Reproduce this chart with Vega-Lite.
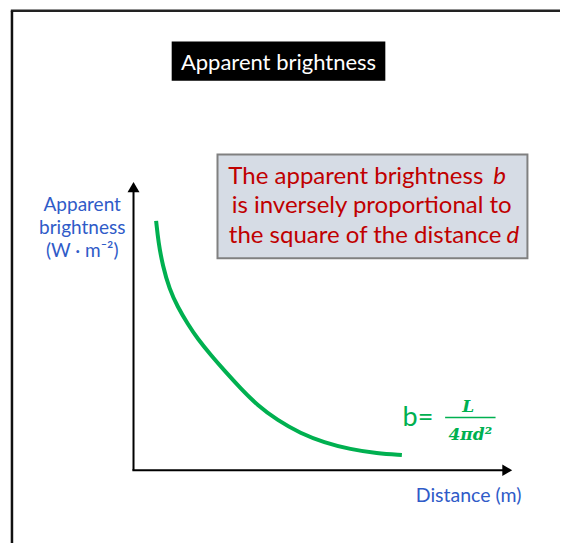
{
  "$schema": "https://vega.github.io/schema/vega-lite/v6.json",
  "width": 562,
  "height": 545,
  "padding": 0,
  "autosize": {"type": "fit", "contains": "padding"},
  "background": "white",
  "config": {"view": {"stroke": null}},
  "datasets": {
    "curve": [
      {"d": 0.597, "b": 8.631},
      {"d": 0.658, "b": 7.886},
      {"d": 0.771, "b": 7.079},
      {"d": 0.947, "b": 6.276},
      {"d": 1.166, "b": 5.655},
      {"d": 1.429, "b": 5.069},
      {"d": 1.692, "b": 4.552},
      {"d": 2.045, "b": 3.983},
      {"d": 2.395, "b": 3.459},
      {"d": 2.834, "b": 2.828},
      {"d": 3.271, "b": 2.252},
      {"d": 3.797, "b": 1.734},
      {"d": 4.413, "b": 1.276},
      {"d": 5.026, "b": 0.966},
      {"d": 5.729, "b": 0.724},
      {"d": 6.429, "b": 0.586},
      {"d": 7.087, "b": 0.528}
    ],
    "one": [{}]
  },
  "layer": [
    {
      "data": {"name": "one"},
      "mark": {"type": "rule", "stroke": "#222222", "strokeWidth": 2.5},
      "encoding": {
        "x": {"datum": -3.24, "type": "quantitative", "scale": {"domain": [-3.526, 11.263], "nice": false, "zero": false}, "axis": null},
        "y": {"datum": 15.9, "type": "quantitative", "scale": {"domain": [-2.517, 16.276], "nice": false, "zero": false}, "axis": null},
        "x2": {"datum": 11.263},
        "y2": {"datum": 15.9}
      }
    },
    {
      "data": {"name": "one"},
      "mark": {"type": "rule", "stroke": "#111111", "strokeWidth": 2.5},
      "encoding": {
        "x": {"datum": -3.21, "type": "quantitative", "scale": {"domain": [-3.526, 11.263], "nice": false, "zero": false}, "axis": null},
        "y": {"datum": 15.9, "type": "quantitative", "scale": {"domain": [-2.517, 16.276], "nice": false, "zero": false}, "axis": null},
        "x2": {"datum": -3.21},
        "y2": {"datum": -2.517}
      }
    },
    {
      "data": {"name": "one"},
      "mark": {"type": "rect", "fill": "#000000"},
      "encoding": {
        "x": {"datum": 1.008, "type": "quantitative", "scale": {"domain": [-3.526, 11.263], "nice": false, "zero": false}, "axis": null},
        "x2": {"datum": 6.65},
        "y": {"datum": 14.838, "type": "quantitative", "scale": {"domain": [-2.517, 16.276], "nice": false, "zero": false}, "axis": null},
        "y2": {"datum": 13.483}
      }
    },
    {
      "data": {"name": "one"},
      "mark": {"type": "text", "font": "Lato", "fontSize": 22, "fill": "#ffffff", "align": "center", "baseline": "alphabetic"},
      "encoding": {
        "x": {"datum": 3.829, "type": "quantitative", "scale": {"domain": [-3.526, 11.263], "nice": false, "zero": false}, "axis": null},
        "y": {"datum": 13.862, "type": "quantitative", "scale": {"domain": [-2.517, 16.276], "nice": false, "zero": false}, "axis": null},
        "text": {"value": "Apparent brightness"}
      }
    },
    {
      "data": {"name": "one"},
      "mark": {"type": "rect", "fill": "#D6DCE5", "stroke": "#808080", "strokeWidth": 2},
      "encoding": {
        "x": {"datum": 2.218, "type": "quantitative", "scale": {"domain": [-3.526, 11.263], "nice": false, "zero": false}, "axis": null},
        "x2": {"datum": 10.403},
        "y": {"datum": 10.931, "type": "quantitative", "scale": {"domain": [-2.517, 16.276], "nice": false, "zero": false}, "axis": null},
        "y2": {"datum": 7.334}
      }
    },
    {
      "data": {"name": "one"},
      "mark": {"type": "text", "font": "Lato", "fontSize": 24, "fill": "#C00000", "align": "right", "baseline": "alphabetic"},
      "encoding": {
        "x": {"datum": 9.237, "type": "quantitative", "scale": {"domain": [-3.526, 11.263], "nice": false, "zero": false}, "axis": null},
        "y": {"datum": 9.897, "type": "quantitative", "scale": {"domain": [-2.517, 16.276], "nice": false, "zero": false}, "axis": null},
        "text": {"value": "The apparent brightness"}
      }
    },
    {
      "data": {"name": "one"},
      "mark": {"type": "text", "font": "Lato", "fontSize": 24, "fontStyle": "italic", "fill": "#C00000", "align": "left", "baseline": "alphabetic"},
      "encoding": {
        "x": {"datum": 9.5, "type": "quantitative", "scale": {"domain": [-3.526, 11.263], "nice": false, "zero": false}, "axis": null},
        "y": {"datum": 9.897, "type": "quantitative", "scale": {"domain": [-2.517, 16.276], "nice": false, "zero": false}, "axis": null},
        "text": {"value": "b"}
      }
    },
    {
      "data": {"name": "one"},
      "mark": {"type": "text", "font": "Lato", "fontSize": 24, "fill": "#C00000", "align": "center", "baseline": "alphabetic"},
      "encoding": {
        "x": {"datum": 6.289, "type": "quantitative", "scale": {"domain": [-3.526, 11.263], "nice": false, "zero": false}, "axis": null},
        "y": {"datum": 8.897, "type": "quantitative", "scale": {"domain": [-2.517, 16.276], "nice": false, "zero": false}, "axis": null},
        "text": {"value": "is inversely proportional to"}
      }
    },
    {
      "data": {"name": "one"},
      "mark": {"type": "text", "font": "Lato", "fontSize": 24, "fill": "#C00000", "align": "right", "baseline": "alphabetic"},
      "encoding": {
        "x": {"datum": 9.718, "type": "quantitative", "scale": {"domain": [-3.526, 11.263], "nice": false, "zero": false}, "axis": null},
        "y": {"datum": 7.862, "type": "quantitative", "scale": {"domain": [-2.517, 16.276], "nice": false, "zero": false}, "axis": null},
        "text": {"value": "the square of the distance"}
      }
    },
    {
      "data": {"name": "one"},
      "mark": {"type": "text", "font": "Lato", "fontSize": 24, "fontStyle": "italic", "fill": "#C00000", "align": "left", "baseline": "alphabetic"},
      "encoding": {
        "x": {"datum": 9.85, "type": "quantitative", "scale": {"domain": [-3.526, 11.263], "nice": false, "zero": false}, "axis": null},
        "y": {"datum": 7.862, "type": "quantitative", "scale": {"domain": [-2.517, 16.276], "nice": false, "zero": false}, "axis": null},
        "text": {"value": "d"}
      }
    },
    {
      "data": {"name": "one"},
      "mark": {"type": "rule", "stroke": "#000000", "strokeWidth": 2},
      "encoding": {
        "x": {"datum": 0, "type": "quantitative", "scale": {"domain": [-3.526, 11.263], "nice": false, "zero": false}, "axis": null},
        "y": {"datum": 0, "type": "quantitative", "scale": {"domain": [-2.517, 16.276], "nice": false, "zero": false}, "axis": null},
        "x2": {"datum": 0},
        "y2": {"datum": 9.7}
      }
    },
    {
      "data": {"name": "one"},
      "mark": {"type": "rule", "stroke": "#000000", "strokeWidth": 2},
      "encoding": {
        "x": {"datum": -0.03, "type": "quantitative", "scale": {"domain": [-3.526, 11.263], "nice": false, "zero": false}, "axis": null},
        "y": {"datum": 0, "type": "quantitative", "scale": {"domain": [-2.517, 16.276], "nice": false, "zero": false}, "axis": null},
        "x2": {"datum": 9.8},
        "y2": {"datum": 0}
      }
    },
    {
      "data": {"name": "one"},
      "mark": {"type": "point", "shape": "triangle-up", "filled": true, "fill": "#000000", "stroke": null, "size": 144, "opacity": 1},
      "encoding": {
        "x": {"datum": 0, "type": "quantitative", "scale": {"domain": [-3.526, 11.263], "nice": false, "zero": false}, "axis": null},
        "y": {"datum": 9.8, "type": "quantitative", "scale": {"domain": [-2.517, 16.276], "nice": false, "zero": false}, "axis": null}
      }
    },
    {
      "data": {"name": "one"},
      "mark": {"type": "point", "shape": "triangle-right", "filled": true, "fill": "#000000", "stroke": null, "size": 130, "opacity": 1},
      "encoding": {
        "x": {"datum": 9.87, "type": "quantitative", "scale": {"domain": [-3.526, 11.263], "nice": false, "zero": false}, "axis": null},
        "y": {"datum": 0, "type": "quantitative", "scale": {"domain": [-2.517, 16.276], "nice": false, "zero": false}, "axis": null}
      }
    },
    {
      "data": {"name": "curve"},
      "mark": {"type": "line", "stroke": "#00B050", "strokeWidth": 4, "interpolate": "basis", "strokeCap": "butt"},
      "encoding": {
        "x": {"field": "d", "type": "quantitative", "scale": {"domain": [-3.526, 11.263], "nice": false, "zero": false}, "axis": null},
        "y": {"field": "b", "type": "quantitative", "scale": {"domain": [-2.517, 16.276], "nice": false, "zero": false}, "axis": null}
      }
    },
    {
      "data": {"name": "one"},
      "mark": {"type": "text", "font": "Lato", "fontSize": 19, "fill": "#2F5BC8", "align": "center", "baseline": "alphabetic", "lineHeight": 23},
      "encoding": {
        "x": {"datum": -1.355, "type": "quantitative", "scale": {"domain": [-3.526, 11.263], "nice": false, "zero": false}, "axis": null},
        "y": {"datum": 8.976, "type": "quantitative", "scale": {"domain": [-2.517, 16.276], "nice": false, "zero": false}, "axis": null},
        "text": {"value": ["Apparent", "brightness", "(W · m⁻²)"]}
      }
    },
    {
      "data": {"name": "one"},
      "mark": {"type": "text", "font": "Lato", "fontSize": 19.5, "fill": "#2F5BC8", "align": "center", "baseline": "alphabetic"},
      "encoding": {
        "x": {"datum": 8.85, "type": "quantitative", "scale": {"domain": [-3.526, 11.263], "nice": false, "zero": false}, "axis": null},
        "y": {"datum": -1.103, "type": "quantitative", "scale": {"domain": [-2.517, 16.276], "nice": false, "zero": false}, "axis": null},
        "text": {"value": "Distance (m)"}
      }
    },
    {
      "data": {"name": "one"},
      "mark": {"type": "text", "font": "Lato", "fontSize": 27, "fill": "#00B050", "align": "left", "baseline": "alphabetic"},
      "encoding": {
        "x": {"datum": 7.105, "type": "quantitative", "scale": {"domain": [-3.526, 11.263], "nice": false, "zero": false}, "axis": null},
        "y": {"datum": 1.517, "type": "quantitative", "scale": {"domain": [-2.517, 16.276], "nice": false, "zero": false}, "axis": null},
        "text": {"value": "b="}
      }
    },
    {
      "data": {"name": "one"},
      "mark": {"type": "text", "font": "DejaVu Serif", "fontSize": 17, "fontStyle": "italic", "fontWeight": "bold", "fill": "#00B050", "align": "center", "baseline": "alphabetic"},
      "encoding": {
        "x": {"datum": 8.842, "type": "quantitative", "scale": {"domain": [-3.526, 11.263], "nice": false, "zero": false}, "axis": null},
        "y": {"datum": 2.024, "type": "quantitative", "scale": {"domain": [-2.517, 16.276], "nice": false, "zero": false}, "axis": null},
        "text": {"value": "L"}
      }
    },
    {
      "data": {"name": "one"},
      "mark": {"type": "rule", "stroke": "#00B050", "strokeWidth": 1.5},
      "encoding": {
        "x": {"datum": 8.229, "type": "quantitative", "scale": {"domain": [-3.526, 11.263], "nice": false, "zero": false}, "axis": null},
        "y": {"datum": 1.828, "type": "quantitative", "scale": {"domain": [-2.517, 16.276], "nice": false, "zero": false}, "axis": null},
        "x2": {"datum": 9.561},
        "y2": {"datum": 1.828}
      }
    },
    {
      "data": {"name": "one"},
      "mark": {"type": "text", "font": "DejaVu Serif", "fontSize": 17, "fontStyle": "italic", "fontWeight": "bold", "fill": "#00B050", "align": "center", "baseline": "alphabetic"},
      "encoding": {
        "x": {"datum": 8.895, "type": "quantitative", "scale": {"domain": [-3.526, 11.263], "nice": false, "zero": false}, "axis": null},
        "y": {"datum": 1.045, "type": "quantitative", "scale": {"domain": [-2.517, 16.276], "nice": false, "zero": false}, "axis": null},
        "text": {"value": "4πd²"}
      }
    }
  ]
}
